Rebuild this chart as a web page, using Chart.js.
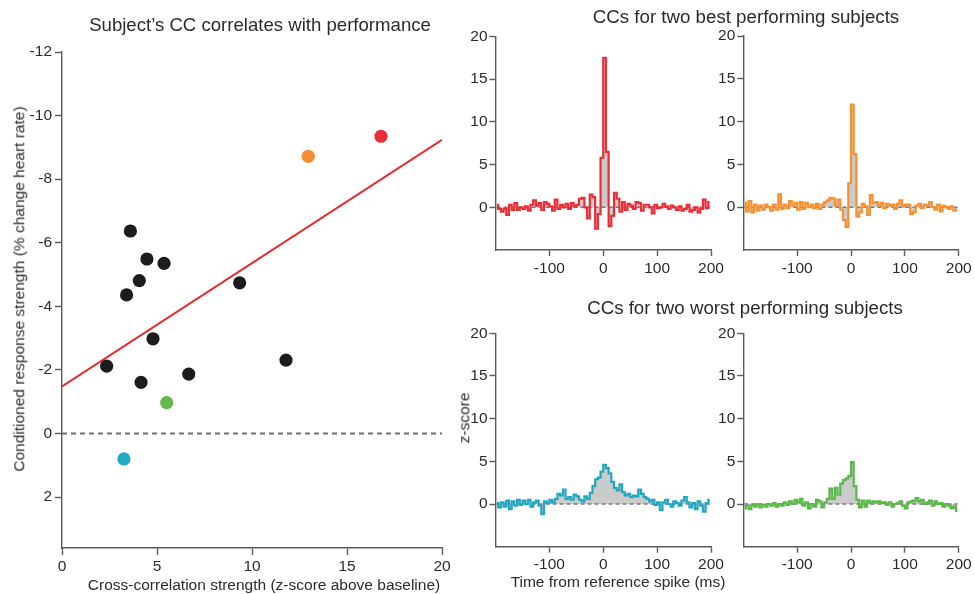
<!DOCTYPE html>
<html><head><meta charset="utf-8">
<script src="https://cdn.jsdelivr.net/npm/chart.js@4.4.1/dist/chart.umd.min.js"></script>
<style>
html,body{margin:0;padding:0;background:#fff;}
#wrap{position:relative;width:975px;height:594px;overflow:hidden;font-family:"Liberation Sans",Arial,Helvetica,sans-serif;color:#2b2b2b;}
canvas{position:absolute;left:0;top:0;}
.t{position:absolute;white-space:nowrap;line-height:1;transform:translate(-50%,-50%);}
.r{transform:translate(-50%,-50%) rotate(-90deg);}
</style></head><body>
<div id="wrap">
<canvas id="cScatter" width="975" height="594"></canvas>
<canvas id="cBest1" width="975" height="594"></canvas>
<canvas id="cBest2" width="975" height="594"></canvas>
<canvas id="cWorst1" width="975" height="594"></canvas>
<canvas id="cWorst2" width="975" height="594"></canvas>
<div class="t" style="left:260px;top:25px;font-size:18.6px">Subject’s CC correlates with performance</div>
<div class="t" style="left:264px;top:585px;font-size:15.5px">Cross-correlation strength (z-score above baseline)</div>
<div class="t r" style="left:18.5px;top:288.5px;font-size:15.5px">Conditioned response strength (% change heart rate)</div>
<div class="t" style="left:746px;top:16.5px;font-size:18.7px">CCs for two best performing subjects</div>
<div class="t" style="left:745px;top:307.5px;font-size:18.7px">CCs for two worst performing subjects</div>
<div class="t r" style="left:464px;top:417.5px;font-size:15.5px">z-score</div>
<div class="t" style="left:618px;top:582px;font-size:15.5px">Time from reference spike (ms)</div>
</div>
<script>
// ---------- scatter data ----------
const scatterXTicks = [0, 5, 10, 15, 20];
const scatterYTicks = [-12, -10, -8, -6, -4, -2, 0, 2];
const otherCC = [3.6, 4.47, 5.37, 4.07, 3.4, 9.35, 4.79, 2.35, 4.16, 6.67, 11.79];
const otherCR = [-6.37, -5.49, -5.35, -4.81, -4.36, -4.74, -2.98, -2.12, -1.61, -1.87, -2.31];
const best1CC = [16.79], best1CR = [-9.35];
const best2CC = [12.96], best2CR = [-8.72];
const worst1CC = [3.26], worst1CR = [0.8];
const worst2CC = [5.51], worst2CR = [-0.97];
const fitCC = [0, 20], fitCR = [-1.48, -9.24];
const zeroCC = [0, 20], zeroCR = [0, 0];

// ---------- cross-correlogram data (5 ms bins, bin centres) ----------
const lagMs = [
 -197.5,-192.5,-187.5,-182.5,-177.5,-172.5,-167.5,-162.5,-157.5,-152.5,
 -147.5,-142.5,-137.5,-132.5,-127.5,-122.5,-117.5,-112.5,-107.5,-102.5,
 -97.5,-92.5,-87.5,-82.5,-77.5,-72.5,-67.5,-62.5,-57.5,-52.5,
 -47.5,-42.5,-37.5,-32.5,-27.5,-22.5,-17.5,-12.5,-7.5,-2.5,
 2.5,7.5,12.5,17.5,22.5,27.5,32.5,37.5,42.5,47.5,
 52.5,57.5,62.5,67.5,72.5,77.5,82.5,87.5,92.5,97.5,
 102.5,107.5,112.5,117.5,122.5,127.5,132.5,137.5,142.5,147.5,
 152.5,157.5,162.5,167.5,172.5,177.5,182.5,187.5,192.5,197.5];
const ccBest1 = [
 0.3,-0.2,-0.5,-0.2,-0.9,0.3,-0.3,0.5,-0.3,0.0,
 -0.2,0.1,-0.4,0.3,0.8,0.2,0.5,-0.3,0.6,0.4,
 0.1,-0.4,0.9,-0.2,0.3,0.0,0.4,-0.2,0.5,0.1,
 0.3,1.0,1.1,0.0,-1.3,1.5,1.2,-2.5,-0.8,5.8,
 17.5,6.5,-2.2,-1.0,1.7,1.0,-0.5,0.6,-0.3,0.4,
 0.2,-0.2,0.6,0.5,-0.4,0.3,0.3,0.0,-0.7,0.3,
 -0.1,0.0,0.4,0.1,-0.2,0.2,0.0,-0.3,0.1,-0.4,
 -0.2,0.3,-0.5,-0.3,0.0,-0.6,-0.2,0.9,-0.1,0.6];
const ccBest2 = [
 0.5,-0.5,0.7,-0.6,0.3,-0.4,0.2,-0.3,0.3,0.0,
 -0.4,0.3,-0.3,1.5,-0.2,0.3,-0.1,0.7,0.2,0.5,
 -0.3,0.6,-0.2,0.5,0.0,0.3,-0.1,0.4,-0.2,0.3,
 0.6,0.8,1.1,1.0,0.2,0.9,-0.3,-1.5,-2.3,2.8,
 12.0,6.2,-1.1,-0.6,0.4,0.1,-0.9,1.4,0.5,0.6,
 0.2,0.5,-0.1,0.4,0.2,0.3,-0.2,0.4,0.8,0.1,
 0.3,0.3,-0.8,-0.6,0.2,0.4,-0.1,0.3,0.2,0.6,
 0.0,-0.3,0.3,-0.5,0.2,0.0,-0.2,0.1,-0.4,-0.3];
const ccWorst1 = [
 0.1,-0.4,0.2,-0.3,0.4,-0.6,0.3,-0.2,0.5,-0.1,
 0.4,0.0,0.5,-0.3,0.2,0.4,-0.2,-1.2,0.3,0.1,
 0.5,0.2,0.6,1.2,1.0,1.7,0.6,0.8,0.5,1.1,
 0.9,0.5,0.3,0.9,0.6,1.3,2.1,2.9,3.1,3.8,
 4.6,4.2,3.6,2.6,1.9,1.6,2.3,1.4,1.0,1.2,
 0.8,1.0,0.9,1.7,1.2,0.8,0.6,0.3,0.5,-0.1,
 0.2,-0.7,0.2,0.5,0.0,-0.3,0.3,0.1,-0.2,0.4,
 0.8,0.2,-0.4,0.1,-0.6,0.3,-0.2,-0.9,0.1,0.5];
const ccWorst2 = [
 -0.5,-0.2,-0.6,-0.1,-0.3,0.0,-0.4,-0.1,-0.3,0.0,
 -0.2,0.1,-0.3,0.0,-0.2,0.2,-0.1,0.3,0.0,0.5,
 0.2,0.6,-0.2,0.2,-0.5,0.0,-0.3,0.5,0.3,-0.4,
 0.2,0.6,1.8,0.6,1.9,1.1,2.4,2.8,3.0,3.3,
 4.9,2.1,0.5,-0.4,0.4,-0.3,0.4,0.1,0.3,0.2,
 0.3,0.1,0.2,-0.1,0.2,-0.3,0.0,0.1,0.3,-0.2,
 -0.5,0.2,0.3,0.4,0.7,0.3,0.5,0.0,0.2,0.4,
 -0.2,0.3,0.0,0.1,-0.3,0.0,-0.2,-0.5,-0.3,-0.8];
const ccXTicks = [-100, 0, 100, 200];
const ccYTicks = [0, 5, 10, 15, 20];
const ccZeroX = [-198, 198], ccZeroY = [0, 0];

// ---------- styling / layout ----------
const W = 975, H = 594;
const AX = '#5a5a5a', TXT = '#2b2b2b';
Chart.defaults.font.family = '"Liberation Sans", Arial, Helvetica, sans-serif';
Chart.defaults.font.size = 15.5;
Chart.defaults.color = TXT;
Chart.defaults.animation = false;

const pts = (xs, ys) => xs.map((x, i) => ({x: x, y: ys[i]}));

function axis(min, max, ticks, fit, tickLen, pad, extra) {
  return Object.assign({
    type: 'linear', min: min, max: max, bounds: 'data',
    afterBuildTicks: s => { s.ticks = ticks.map(v => ({value: v})); },
    afterFit: fit,
    grid: {drawOnChartArea: false, drawTicks: true, tickLength: tickLen, tickWidth: 1.4, tickColor: AX},
    border: {display: true, color: AX, width: 1.4},
    ticks: {autoSkip: false, maxRotation: 0, minRotation: 0, padding: pad, color: TXT,
            font: {size: 15.5}, callback: v => String(v)}
  }, extra || {});
}

function pad(a, yw, xh) {
  return {left: a.l - yw, right: W - a.r, top: a.t, bottom: H - a.b - xh};
}

const baseOpts = (area, yw, xh, scales) => ({
  responsive: false, events: [], animation: false,
  layout: {padding: pad(area, yw, xh)},
  plugins: {legend: {display: false}, tooltip: {enabled: false}, title: {display: false},
            filler: {drawTime: 'beforeDatasetsDraw'}},
  scales: scales
});

// ---------- scatter ----------
{
  const area = {l: 62, r: 442, t: 52, b: 548};
  const yw = 62, xh = 40;
  const dot = (xs, ys, c) => ({data: pts(xs, ys), backgroundColor: c, borderWidth: 0,
                              pointRadius: 6.6, showLine: false, order: 0});
  new Chart(document.getElementById('cScatter'), {
    type: 'scatter',
    data: {datasets: [
      dot(otherCC, otherCR, '#1c1c1c'),
      dot(best1CC, best1CR, '#e8303a'),
      dot(best2CC, best2CR, '#f48c33'),
      dot(worst1CC, worst1CR, '#26a9c2'),
      dot(worst2CC, worst2CR, '#62b849'),
      {data: pts(fitCC, fitCR), showLine: true, borderColor: '#e8262d', borderWidth: 2,
       pointRadius: 0, fill: false, order: 1},
      {data: pts(zeroCC, zeroCR), showLine: true, borderColor: '#6e6e6e', borderWidth: 2,
       borderDash: [5, 4], pointRadius: 0, fill: false, order: 2}
    ]},
    options: baseOpts(area, yw, xh, {
      x: axis(0, 20, scatterXTicks, s => { s.height = xh; }, 7, 2),
      y: axis(-12, 3.6, scatterYTicks, s => { s.width = yw; }, 7, 3, {reverse: true})
    })
  });
}

// ---------- cross-correlograms ----------
function ccChart(id, values, color, area) {
  const yw = 40, xh = 30;
  new Chart(document.getElementById(id), {
    type: 'line',
    data: {datasets: [
      {data: pts(lagMs, values), borderColor: color, borderWidth: 2.2, stepped: 'middle',
       pointRadius: 0, fill: 'origin', backgroundColor: '#cbcbcb', order: 0},
      {data: pts(ccZeroX, ccZeroY), borderColor: '#7a7a7a', borderWidth: 1.6,
       borderDash: [4, 3], pointRadius: 0, fill: false, order: 1}
    ]},
    options: baseOpts(area, yw, xh, {
      x: axis(-200, 200, ccXTicks, s => { s.height = xh; }, 6, 3),
      y: axis(-5, 20, ccYTicks, s => { s.width = yw; }, 6, 2)
    })
  });
}
ccChart('cBest1', ccBest1, '#ee2c36', {l: 495.5, r: 711, t: 36.5, b: 250});
ccChart('cBest2', ccBest2, '#f7902f', {l: 743.3, r: 958.7, t: 36, b: 250});
ccChart('cWorst1', ccWorst1, '#1fa8c4', {l: 495.5, r: 711, t: 333.3, b: 546.7});
ccChart('cWorst2', ccWorst2, '#58b947', {l: 743.3, r: 958.7, t: 333.3, b: 546.7});
</script>
</body></html>
